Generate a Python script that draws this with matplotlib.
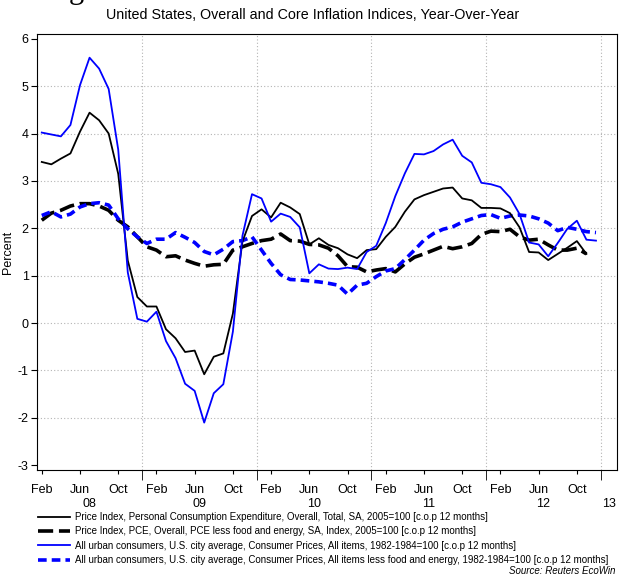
import numpy as np
import matplotlib.pyplot as plt

plt.rcParams['font.family'] = ['Liberation Sans', 'DejaVu Sans']
plt.rcParams['axes.unicode_minus'] = False

## data: monthly year-over-year % change, Feb 2008 onwards
pce = [3.40, 3.35, 3.47, 3.58, 4.04, 4.44, 4.28, 4.00, 3.15, 1.32, 0.55,
       0.35, 0.35, -0.13, -0.32, -0.61, -0.58, -1.08, -0.71, -0.64, 0.20, 1.72, 2.26,
       2.40, 2.23, 2.54, 2.44, 2.30, 1.66, 1.79, 1.65, 1.58, 1.45, 1.37, 1.54,
       1.56, 1.82, 2.03, 2.35, 2.61, 2.70, 2.77, 2.84, 2.86, 2.63, 2.59, 2.43,
       2.43, 2.42, 2.32, 2.02, 1.50, 1.49, 1.33, 1.46, 1.59, 1.73, 1.46]
pce_core = [2.17, 2.32, 2.38, 2.47, 2.52, 2.52, 2.47, 2.38, 2.17, 2.03, 1.82,
            1.61, 1.54, 1.40, 1.42, 1.33, 1.26, 1.20, 1.23, 1.24, 1.54, 1.61, 1.68,
            1.74, 1.77, 1.88, 1.74, 1.73, 1.66, 1.65, 1.58, 1.42, 1.19, 1.18, 1.08,
            1.12, 1.15, 1.08, 1.25, 1.39, 1.46, 1.54, 1.62, 1.57, 1.61, 1.68, 1.87,
            1.94, 1.93, 1.98, 1.82, 1.75, 1.77, 1.65, 1.54, 1.54, 1.58, 1.46]
cpi = [4.02, 3.98, 3.94, 4.18, 5.02, 5.60, 5.37, 4.94, 3.66, 1.07, 0.09,
       0.03, 0.24, -0.38, -0.74, -1.28, -1.43, -2.10, -1.48, -1.29, -0.18, 1.84, 2.72,
       2.63, 2.14, 2.31, 2.24, 2.02, 1.05, 1.24, 1.15, 1.14, 1.17, 1.14, 1.50,
       1.63, 2.11, 2.68, 3.16, 3.57, 3.56, 3.63, 3.77, 3.87, 3.53, 3.39, 2.96,
       2.93, 2.87, 2.65, 2.30, 1.70, 1.66, 1.41, 1.69, 1.99, 2.16, 1.76, 1.74]
cpi_core = [2.27, 2.35, 2.24, 2.30, 2.45, 2.52, 2.54, 2.49, 2.20, 1.99, 1.82,
            1.68, 1.77, 1.77, 1.91, 1.81, 1.70, 1.51, 1.44, 1.56, 1.72, 1.74, 1.82,
            1.54, 1.26, 1.02, 0.92, 0.91, 0.89, 0.87, 0.84, 0.80, 0.61, 0.80, 0.84,
            0.98, 1.10, 1.15, 1.34, 1.54, 1.75, 1.89, 1.98, 2.03, 2.13, 2.20, 2.27,
            2.29, 2.21, 2.26, 2.28, 2.26, 2.20, 2.11, 1.95, 2.02, 1.98, 1.93, 1.91]

month_labels = ["Feb", "Jun", "Oct"]
year_labels = ["08", "09", "10", "11", "12", "13"]

labels = ["Price Index, Personal Consumption Expenditure, Overall, Total, SA, 2005=100 [c.o.p 12 months]",
          "Price Index, PCE, Overall, PCE less food and energy, SA, Index, 2005=100 [c.o.p 12 months]",
          "All urban consumers, U.S. city average, Consumer Prices, All items, 1982-1984=100 [c.o.p 12 months]",
          "All urban consumers, U.S. city average, Consumer Prices, All items less food and energy, 1982-1984=100 [c.o.p 12 months]"]

## PLOT
fig = plt.figure(figsize=(6.19, 5.75), dpi=100)
ax = fig.add_axes([37/619, 1-470/575, 580/619, 436/575])

xlo, xhi = -0.5, 60.2
ax.set_xlim(xlo, xhi)
ax.set_ylim(-3.1, 6.1)

# grid
for v in range(-2, 6):
    ax.axhline(v, color="#b4b4b4", lw=0.8, ls=(0, (1, 2)), zorder=0)
bounds = np.arange(10.5, xhi, 12)
for b in bounds:
    ax.axvline(b, color="#b4b4b4", lw=0.8, ls=(0, (1, 2)), zorder=0)

x1 = np.arange(len(pce))
x2 = np.arange(len(cpi))
l2, = ax.plot(x1, pce_core, color="k", lw=2.6, ls=(0, (4.2, 1.6)), zorder=2)
l4, = ax.plot(x2, cpi_core, color="#0000ff", lw=2.6, ls=(0, (2.4, 1.4)), zorder=3)
l1, = ax.plot(x1, pce, color="k", lw=1.3, zorder=4)
l3, = ax.plot(x2, cpi, color="#0000ff", lw=1.3, zorder=5)

# axes ticks
ax.set_yticks(range(-3, 7))
ax.tick_params(axis="y", labelsize=9, length=4, direction="out", pad=2)
mpos = np.arange(0, 57, 4)
ax.set_xticks(mpos)
ax.set_xticklabels([month_labels[k % 3] for k in range(len(mpos))], fontsize=9)
ax.tick_params(axis="x", length=3, direction="out", pad=7)
ax.set_xticks(bounds, minor=True)
ax.tick_params(axis="x", which="minor", length=7, direction="out")

edges = np.concatenate(([xlo], bounds, [xhi]))
for k, lab in enumerate(year_labels):
    ax.text((edges[k]+edges[k+1])/2, -0.065, lab, transform=ax.get_xaxis_transform(),
            ha="center", va="top", fontsize=9)

ax.set_ylabel("Percent", fontsize=9)
ax.yaxis.set_label_coords(-23/580, 0.5)

fig.text(313/619, 1-15/575, "United States, Overall and Core Inflation Indices, Year-Over-Year",
         ha="center", va="center", fontsize=10.3)
fig.text(76/619, 1+2/575, "g", ha="center", va="baseline", fontsize=22,
         family="Liberation Serif")

fig.legend([l1, l2, l3, l4], labels, loc="upper left", bbox_to_anchor=(38/619, 1-512/575),
           frameon=False, fontsize=7.0, handlelength=3.3, handletextpad=0.5,
           labelspacing=0.45, borderpad=0, borderaxespad=0)
fig.text(615/619, 1-571/575, "Source: Reuters EcoWin", ha="right", va="center",
         fontsize=7, style="italic")

plt.savefig("out.png", dpi=100)
plt.close(fig)
